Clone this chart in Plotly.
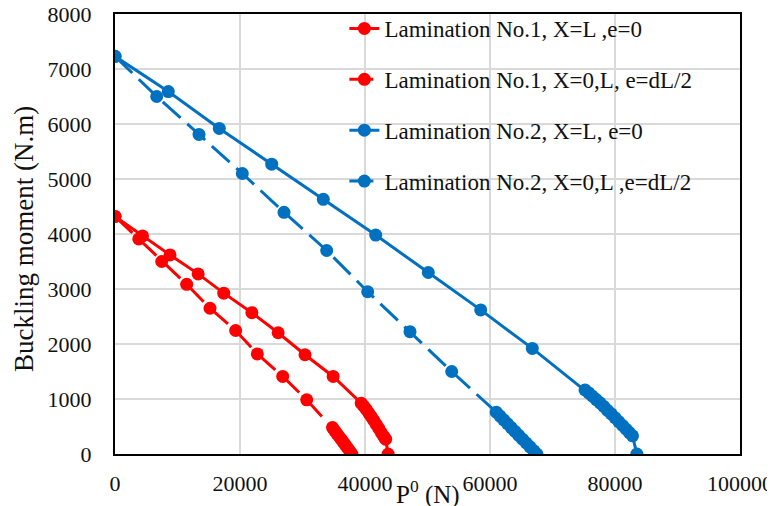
import plotly.graph_objects as go

# ---- data ----
red_solid_x = [0, 4400, 8800, 13300, 17400, 21900, 26100, 30400, 34900,
               39400, 39800, 40200, 40600, 41000, 41400, 41800, 42200, 42600, 43000, 43300, 43700]
red_solid_y = [4320, 3965, 3620, 3275, 2925, 2570, 2205, 1805, 1410,
               925, 870, 810, 745, 680, 610, 540, 465, 390, 320, 270, 0]

red_dash_x = [0, 3800, 7470, 11470, 15200, 19300, 22770, 26830, 30670,
              34800, 35150, 35500, 35850, 36200, 36550, 36900, 37250, 37600, 37900]
red_dash_y = [4320, 3910, 3500, 3085, 2650, 2245, 1820, 1410, 985,
              480, 425, 370, 318, 265, 212, 158, 105, 50, 0]

blue_solid_x = [0, 8530, 16690, 25070, 33330, 41710, 50130, 58510, 66770,
                75200, 75800, 76400, 77000, 77600, 78200, 78800, 79400, 80000, 80600,
                81200, 81800, 82300, 82800, 83500]
blue_solid_y = [7230, 6590, 5920, 5270, 4630, 3980, 3300, 2620, 1920,
                1165, 1110, 1050, 990, 930, 865, 795, 730, 660, 590,
                520, 450, 390, 330, 0]

blue_dash_x = [0, 6670, 13440, 20370, 27040, 33870, 40430, 47200, 53870,
               61000, 61600, 62200, 62800, 63400, 64000, 64600, 65200, 65800, 66400, 67000, 67500]
blue_dash_y = [7230, 6500, 5810, 5100, 4395, 3700, 2950, 2225, 1500,
               760, 690, 620, 550, 480, 410, 340, 270, 200, 130, 60, 0]

names = ["Lamination No.1, X=L ,e=0",
         "Lamination No.1, X=0,L, e=dL/2",
         "Lamination No.2, X=L, e=0",
         "Lamination No.2, X=0,L ,e=dL/2"]

x_ticks = [0, 20000, 40000, 60000, 80000, 100000]
y_ticks = [0, 1000, 2000, 3000, 4000, 5000, 6000, 7000, 8000]

RED = "#FF0000"
BLUE = "#0070C0"
FONT = "Liberation Serif"
TXT = "#111111"

series = [
    (red_solid_x, red_solid_y, RED, "solid"),
    (red_dash_x, red_dash_y, RED, "24px,9px"),
    (blue_solid_x, blue_solid_y, BLUE, "solid"),
    (blue_dash_x, blue_dash_y, BLUE, "24px,9px"),
]

fig = go.Figure()
for i, (xs, ys, col, dash) in enumerate(series):
    fig.add_trace(go.Scatter(
        x=xs, y=ys, name=names[i], mode="lines+markers",
        legendgroup=f"g{i}",
        line=dict(color=col, width=3, dash=dash),
        marker=dict(color=col, size=13, line=dict(width=0)),
    ))

# page body adds an 8px offset; size the figure so it fits the 775x506 window
fig.update_layout(
    width=767, height=498,
    margin=dict(l=107, r=35, t=6, b=52, autoexpand=False),
    paper_bgcolor="white", plot_bgcolor="white",
    font=dict(family=FONT, color=TXT, size=22),
    showlegend=True,
    legend=dict(
        x=0.367, y=1.016, xanchor="left", yanchor="top",
        bgcolor="rgba(0,0,0,0)", borderwidth=0,
        font=dict(family=FONT, size=23, color=TXT),
        tracegroupgap=18, itemwidth=30,
    ),
    xaxis=dict(
        range=[0, 100000], tickvals=x_ticks, ticktext=[str(v) for v in x_ticks],
        showgrid=True, gridcolor="#d9d9d9", gridwidth=2,
        showline=True, linecolor="black", linewidth=2, mirror=True,
        zeroline=False, ticks="", ticklabelstandoff=9, automargin=False,
        ticklabeloverflow="allow",
        tickfont=dict(family=FONT, size=22, color=TXT),
    ),
    yaxis=dict(
        range=[0, 8000], tickvals=y_ticks, ticktext=[str(v) for v in y_ticks],
        showgrid=True, gridcolor="#d9d9d9", gridwidth=2,
        showline=True, linecolor="black", linewidth=2, mirror=True,
        zeroline=False, ticks="", ticklabelstandoff=17, automargin=False,
        ticklabeloverflow="allow",
        tickfont=dict(family=FONT, size=22, color=TXT),
    ),
    annotations=[
        dict(text="Buckling moment (N.m)", textangle=-90,
             xref="paper", yref="paper", x=-(115 - 24) / 625, y=(454 - 239) / 440,
             xanchor="center", yanchor="middle", showarrow=False,
             font=dict(family=FONT, size=27, color=TXT)),
        dict(text="P<sup>0</sup> (N)",
             xref="paper", yref="paper", x=0.5, y=-(492 - 454) / 440,
             xanchor="center", yanchor="middle", showarrow=False,
             font=dict(family=FONT, size=25, color=TXT)),
    ],
)

fig.write_html("out.html")
